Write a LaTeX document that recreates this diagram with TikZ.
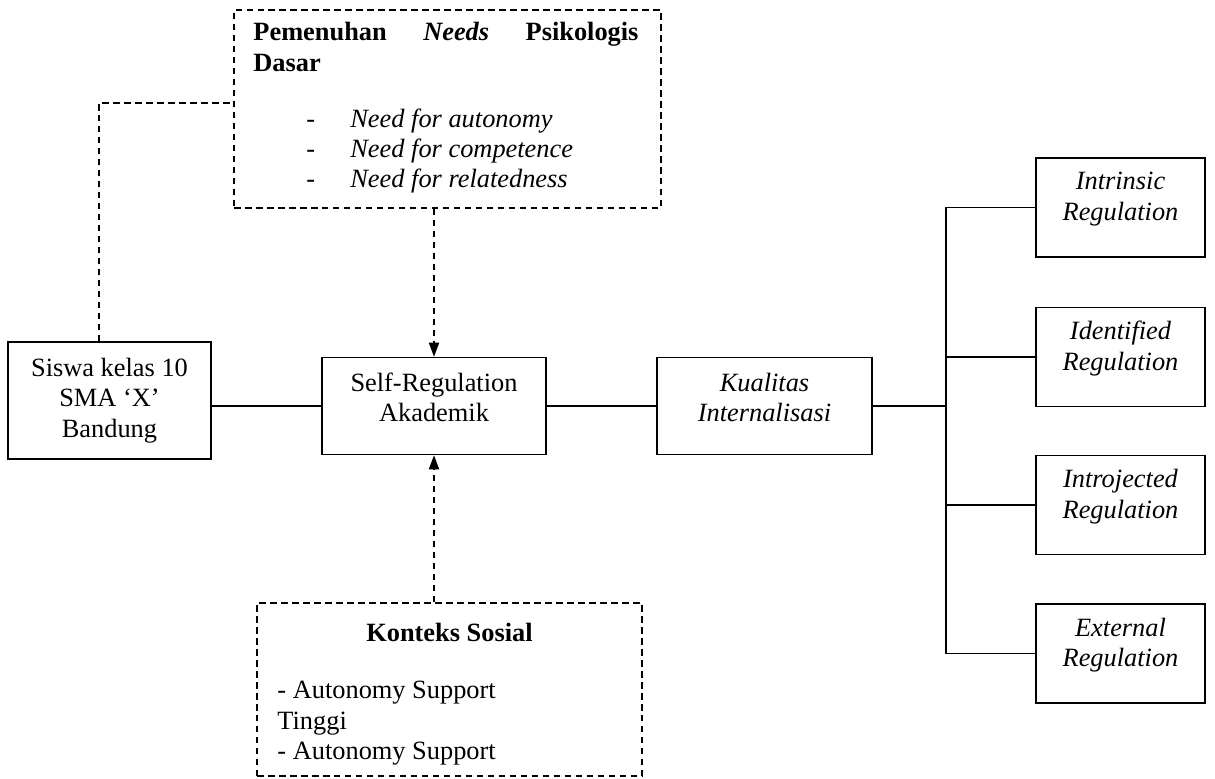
\documentclass[tikz,border=0pt,12pt]{standalone}
\usepackage{fontspec}
\setmainfont{Liberation Serif}
\usetikzlibrary{positioning, calc, arrows.meta}

\begin{document}
\fontsize{12}{13.8}\selectfont
\begin{tikzpicture}[
    x=0.455pt, y=-0.455pt,
    box/.style={rectangle, draw, line width=0.7pt, align=center, inner sep=2pt},
    dbox/.style={rectangle, draw, line width=0.7pt, dash pattern=on 3pt off 2pt},
    regbox/.style={box, minimum width=76.9pt, minimum height=45pt},
    boxtext/.style={inner sep=0pt, align=center},
    link/.style={line width=0.7pt},
    dlink/.style={line width=0.7pt, dash pattern=on 3pt off 2pt},
    darrow/.style={dlink, -{Triangle[length=6.4pt, width=4.6pt]}},
  ]
  \useasboundingbox (0,0) rectangle (1215,778);

  % Basic psychological needs
  \node[dbox, minimum width=194.3pt, minimum height=90.1pt] (needs) at (447.5,109) {};
  \node[anchor=north west, inner sep=0pt, text width=175.2pt, align=left, font=\bfseries]
       (needsttl) at (253,22) {Pemenuhan\hfill\textit{Needs}\hfill Psikologis\\Dasar};
  \node[anchor=north west, inner sep=0pt, align=left, font=\itshape]
       (needslist) at (306,108)
       {\makebox[20pt][l]{\upshape -}Need for autonomy\\
        \makebox[20pt][l]{\upshape -}Need for competence\\
        \makebox[20pt][l]{\upshape -}Need for relatedness};

  % Main chain
  \node[box, minimum width=92.4pt, minimum height=53.2pt] (siswa) at (109.5,400.5)
       {Siswa kelas 10\\SMA `X'\\Bandung};
  \node[box, minimum width=101.9pt, minimum height=44.1pt] (selfreg) at (434,406) {};
  \node[boxtext] (selfregtxt) at (434,397.5) {Self-Regulation\\Akademik};
  \node[box, minimum width=97.8pt, minimum height=44.1pt] (kualitas) at (764.5,406) {};
  \node[boxtext, font=\itshape] (kualitastxt) at (764.5,397.5) {Kualitas\\Internalisasi};

  % Regulation types
  \foreach \name/\ypos/\txt in {intrinsic/207.5/Intrinsic, identified/357/Identified,
                                introjected/505/Introjected, external/653.5/External}
  {
    \node[regbox] (\name) at (1120.5,\ypos) {};
    \node[boxtext, font=\itshape] (\name txt) at (1120.5,\ypos-8.5) {\txt\\Regulation};
  }

  % Social context
  \node[dbox, minimum width=175.2pt, minimum height=78.7pt] (konteks) at (449.5,689.5) {};
  \node[font=\bfseries, inner sep=0pt] (konteksttl) at (449.5,632) {Konteks Sosial};
  \node[anchor=north west, inner sep=0pt, align=left] (konteksitems) at (277,681)
       {- Autonomy Support\\Tinggi\\- Autonomy Support};

  % Connectors
  \draw[link] (siswa.east |- selfreg.west) -- (selfreg.west);
  \draw[link] (selfreg) -- (kualitas);
  \coordinate (bus) at (946,406);
  \draw[link] (kualitas.east) -- (bus);
  \foreach \name in {intrinsic, identified, introjected, external}
    \draw[link] (\name.west) -| (bus);
  \draw[dlink] ($(siswa.north)+(-10.5,0)$) |- ($(needs.west)+(0,-6)$);
  \draw[darrow] (needs.south -| selfreg.north) -- (selfreg.north);
  \draw[darrow] (konteks.north -| selfreg.south) -- (selfreg.south);
\end{tikzpicture}
\end{document}
